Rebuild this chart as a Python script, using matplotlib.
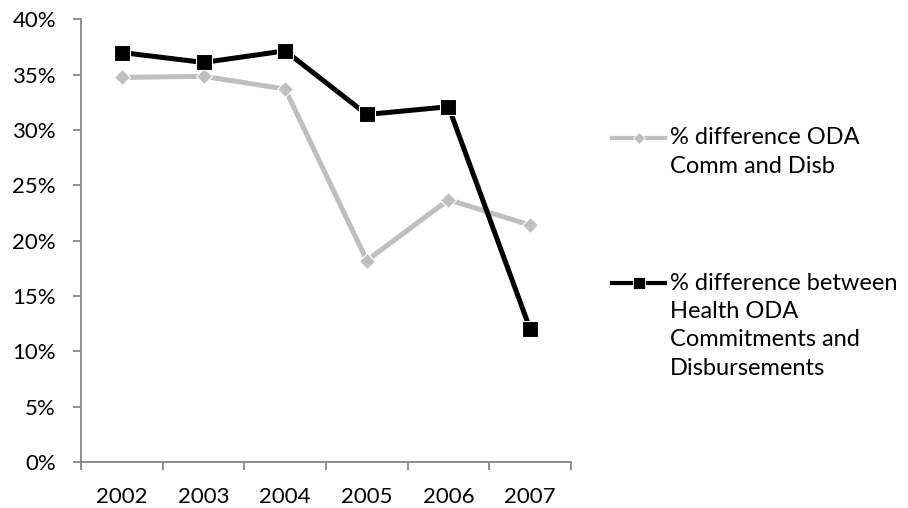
import matplotlib
matplotlib.use("Agg")
import matplotlib.pyplot as plt
from matplotlib.lines import Line2D
from matplotlib.ticker import FuncFormatter

years = ["2002", "2003", "2004", "2005", "2006", "2007"]
oda_comm_disb = [34.75, 34.85, 33.7, 18.2, 23.7, 21.4]
health_oda = [37.0, 36.1, 37.15, 31.4, 32.1, 12.0]
labels = ["% difference ODA\nComm and Disb",
          "% difference between\nHealth ODA\nCommitments and\nDisbursements"]
y_ticks = [0, 5, 10, 15, 20, 25, 30, 35, 40]

plt.rcParams['font.family'] = ['Lato', 'DejaVu Sans']
FS = 16
LFS = 17

W, H = 908, 508
fig = plt.figure(figsize=(W / 100, H / 100), dpi=100)
ax = fig.add_axes([81 / W, 1 - 462 / H, (571 - 81) / W, (462 - 19.3) / H])

x = list(range(len(years)))
gray = '#BFBFBF'
ax.plot(x, oda_comm_disb, color=gray, lw=3.6, marker='D', ms=8,
        markerfacecolor=gray, markeredgecolor='white', markeredgewidth=0.8,
        solid_joinstyle='miter', zorder=3)
ax.plot(x, health_oda, color='black', lw=3.6, marker='s', ms=11.5,
        markerfacecolor='black', markeredgecolor='white', markeredgewidth=0.8,
        solid_joinstyle='miter', zorder=4)

ax.set_xlim(-0.5, len(years) - 0.5)
ax.set_ylim(0, 40)
ax.set_yticks(y_ticks)
ax.yaxis.set_major_formatter(FuncFormatter(lambda v, p: f"{int(v)}%"))
ax.set_xticks(x)
ax.set_xticklabels(years)
ax.set_xticks([i - 0.5 for i in range(len(years) + 1)], minor=True)

axc = '#868686'
for s in ['top', 'right']:
    ax.spines[s].set_visible(False)
for s in ['left', 'bottom']:
    ax.spines[s].set_color(axc)
    ax.spines[s].set_linewidth(1.3)
ax.tick_params(axis='y', which='major', direction='out', length=6, width=1.3,
               color=axc, labelsize=FS, pad=12, labelcolor='black')
ax.tick_params(axis='x', which='major', length=0, labelsize=FS, pad=18,
               labelcolor='black')
ax.tick_params(axis='x', which='minor', direction='out', length=6, width=1.3,
               color=axc)

# legend (manual)
entries = [
    (labels[0], dict(color=gray, marker='D', ms=6, markerfacecolor=gray,
                     markeredgecolor='white', markeredgewidth=0.6, lw=3), 138),
    (labels[1], dict(color='black', marker='s', ms=9, markerfacecolor='black',
                     markeredgecolor='white', markeredgewidth=0.6, lw=3), 283),
]
line_gap = 28.5
for text, style, ytop in entries:
    yf = 1 - ytop / H
    fig.add_artist(Line2D([612 / W, 665 / W], [yf, yf], markevery=[], **style))
    fig.add_artist(Line2D([638.5 / W], [yf], linestyle='none',
                          **{k: v for k, v in style.items() if k not in ('lw',)}))
    for i, ln in enumerate(text.split("\n")):
        fig.text(670 / W, 1 - (ytop + i * line_gap) / H, ln, fontsize=LFS,
                 va='center', ha='left', color='black')

fig.savefig("out.png", dpi=100)
